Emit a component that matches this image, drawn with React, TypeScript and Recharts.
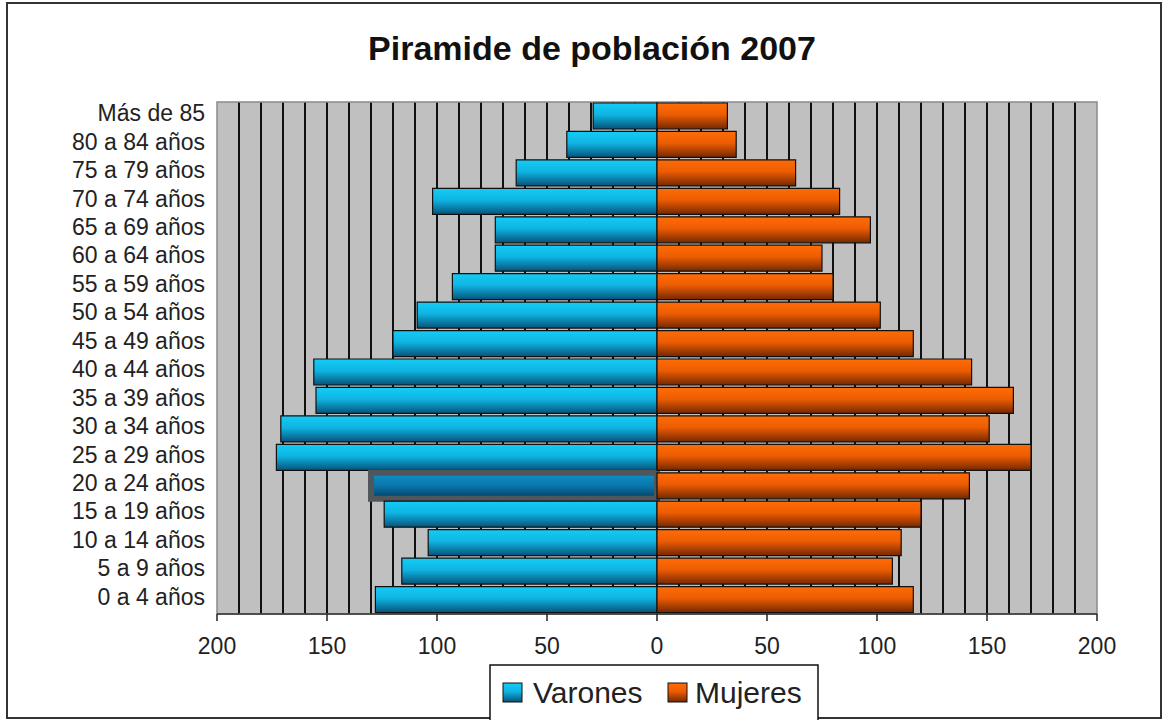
import React from "react";
import {
  BarChart,
  Bar,
  Cell,
  XAxis,
  YAxis,
  CartesianGrid,
  ReferenceArea,
  ReferenceLine,
} from "recharts";

const FONT = "'Liberation Sans', Arial, sans-serif";

// top to bottom, as in the picture
const AGE_GROUPS = [
  "Más de 85",
  "80 a 84 años",
  "75 a 79 años",
  "70 a 74 años",
  "65 a 69 años",
  "60 a 64 años",
  "55 a 59 años",
  "50 a 54 años",
  "45 a 49 años",
  "40 a 44 años",
  "35 a 39 años",
  "30 a 34 años",
  "25 a 29 años",
  "20 a 24 años",
  "15 a 19 años",
  "10 a 14 años",
  "5 a 9 años",
  "0 a 4 años",
];

const VARONES = [29, 41, 64, 102, 73.5, 73.5, 93, 109, 120, 156, 155, 171, 173, 130, 124, 104, 116, 128];
const MUJERES = [32, 36, 63, 83, 97, 75, 80, 101.5, 116.5, 143, 162, 151, 170, 142, 120, 111, 107, 116.5];

const X_TICKS = [-200, -150, -100, -50, 0, 50, 100, 150, 200];
const GRID_TICKS = [
  -190, -180, -170, -160, -150, -140, -130, -120, -110, -100, -90, -80, -70,
  -60, -50, -40, -30, -20, -10, 0, 10, 20, 30, 40, 50, 60, 70, 80, 90, 100,
  110, 120, 130, 140, 150, 160, 170, 180, 190,
];

const SELECTED = "20 a 24 años";

const data = AGE_GROUPS.map((grupo, i) => ({
  grupo,
  varones: -VARONES[i],
  mujeres: MUJERES[i],
}));

const Gradients = ({ prefix }: { prefix: string }) => (
  <defs>
    <linearGradient id={`${prefix}Blue`} x1="0" y1="0" x2="0" y2="1">
      <stop offset="0%" stopColor="#14ccf6" />
      <stop offset="45%" stopColor="#0fb4e2" />
      <stop offset="100%" stopColor="#06537a" />
    </linearGradient>
    <linearGradient id={`${prefix}BlueSel`} x1="0" y1="0" x2="0" y2="1">
      <stop offset="0%" stopColor="#0c92cc" />
      <stop offset="50%" stopColor="#0a76aa" />
      <stop offset="100%" stopColor="#033c60" />
    </linearGradient>
    <linearGradient id={`${prefix}Orange`} x1="0" y1="0" x2="0" y2="1">
      <stop offset="0%" stopColor="#ff6c06" />
      <stop offset="45%" stopColor="#ec5c02" />
      <stop offset="100%" stopColor="#742800" />
    </linearGradient>
  </defs>
);

const AgeTick = (props: any) => {
  const { x, y, payload } = props;
  return (
    <text
      x={x}
      y={y + 5}
      textAnchor="end"
      fontSize={23}
      fontFamily={FONT}
      fill="#222"
    >
      {payload.value}
    </text>
  );
};

const App = () => {
  return (
    <div
      style={{
        position: "absolute",
        left: 0,
        top: 0,
        width: 1168,
        height: 720,
        overflow: "hidden",
        background: "#fff",
      }}
    >
      <svg
        width={1168}
        height={720}
        style={{ position: "absolute", left: 0, top: 0 }}
      >
        <Gradients prefix="leg" />
        <rect x={7} y={3} width={1154} height={715} fill="none" stroke="#333" strokeWidth={2} />
        <text
          x={592}
          y={60}
          textAnchor="middle"
          fontSize={34}
          fontWeight="bold"
          fontFamily={FONT}
          fill="#111"
        >
          Piramide de población 2007
        </text>
        <rect x={490} y={665} width={328} height={62} fill="#fff" stroke="#111" strokeWidth={1.5} />
        <rect x={503} y={683} width={19} height={19} fill="url(#legBlue)" stroke="#111" />
        <text x={533} y={703} fontSize={30} fontFamily={FONT} fill="#222">
          Varones
        </text>
        <rect x={668} y={683} width={19} height={19} fill="url(#legOrange)" stroke="#111" />
        <text x={695} y={703} fontSize={30} fontFamily={FONT} fill="#222">
          Mujeres
        </text>
      </svg>
      <div style={{ position: "absolute", left: 0, top: 0 }}>
        <BarChart
          width={1168}
          height={720}
          data={data}
          layout="vertical"
          stackOffset="sign"
          barCategoryGap={1}
          margin={{ top: 102, right: 71, left: 17, bottom: 46 }}
        >
          <Gradients prefix="bar" />
          <CartesianGrid
            horizontal={false}
            vertical={false}
            fill="#c0c0c0"
            fillOpacity={1}
          />
          <XAxis
            type="number"
            domain={[-200, 200]}
            ticks={X_TICKS}
            interval={0}
            tickFormatter={(v: number) => String(Math.abs(v))}
            height={60}
            tickSize={7}
            tickMargin={17}
            axisLine={{ stroke: "#333", strokeWidth: 1.5 }}
            tickLine={{ stroke: "#222", strokeWidth: 1.5 }}
            tick={{ fontSize: 23, fontFamily: FONT, fill: "#222" }}
          />
          <YAxis
            type="category"
            dataKey="grupo"
            width={200}
            interval={0}
            axisLine={false}
            tickLine={false}
            tickSize={6}
            tickMargin={6}
            tick={<AgeTick />}
          />
          {GRID_TICKS.map((v) => (
            <ReferenceLine
              key={v}
              x={v}
              stroke="#111"
              strokeWidth={2}
              zIndex={-50}
            />
          ))}
          <ReferenceArea
            x1={-200}
            x2={200}
            fill="none"
            stroke="#8a8a8a"
            strokeWidth={1.5}
            ifOverflow="visible"
            zIndex={-50}
          />
          <Bar
            dataKey="varones"
            name="Varones"
            stackId="p"
            fill="url(#barBlue)"
            stroke="#111"
            strokeWidth={1.2}
            isAnimationActive={false}
          >
            {data.map((d) => (
              <Cell
                key={d.grupo}
                fill={d.grupo === SELECTED ? "url(#barBlueSel)" : "url(#barBlue)"}
                stroke={d.grupo === SELECTED ? "#4f575c" : "#111"}
                strokeWidth={d.grupo === SELECTED ? 6 : 1.2}
              />
            ))}
          </Bar>
          <Bar
            dataKey="mujeres"
            name="Mujeres"
            stackId="p"
            fill="url(#barOrange)"
            stroke="#111"
            strokeWidth={1.2}
            isAnimationActive={false}
          />
        </BarChart>
      </div>
    </div>
  );
};

export default App;
